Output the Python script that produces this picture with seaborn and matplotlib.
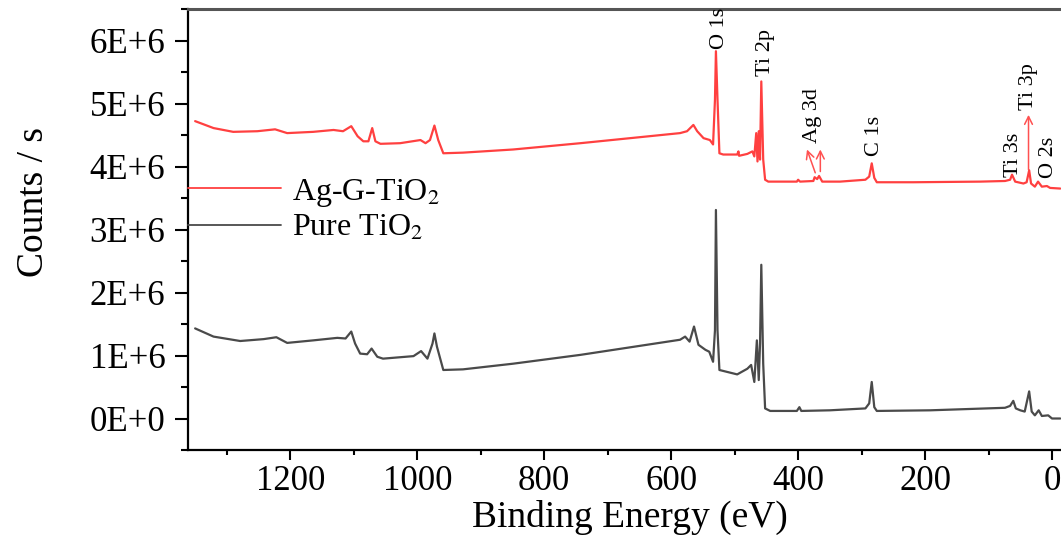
import numpy as np
import pandas as pd
import matplotlib
matplotlib.use("Agg")
import matplotlib.pyplot as plt
from matplotlib.ticker import FixedLocator, MultipleLocator
import seaborn as sns

# ---------------- data ----------------
ag_energy = [1350, 1321, 1290, 1252, 1224, 1205, 1164, 1132, 1117, 1104, 1094, 1085, 1077,
             1071, 1066, 1058, 1027, 995, 987, 980, 973, 967, 959, 928, 849, 743, 586, 575,
             565, 559, 549, 539, 534, 531, 529.5, 527, 524, 518, 496, 494, 493, 480, 472,
             469, 466, 464, 462, 460, 458, 455, 452, 447, 402, 400, 397, 376, 374, 370, 367,
             362, 334, 294, 288, 284, 280, 276, 219, 113, 74, 66, 63, 58, 45, 40, 36, 33,
             27, 22, 16, 8, 3, -13]
ag_counts = [4.72, 4.61, 4.55, 4.56, 4.59, 4.53, 4.55, 4.58, 4.56, 4.64, 4.48, 4.40, 4.40,
             4.61, 4.40, 4.36, 4.37, 4.42, 4.37, 4.42, 4.65, 4.42, 4.21, 4.22, 4.27, 4.37,
             4.53, 4.56, 4.66, 4.56, 4.45, 4.42, 4.35, 5.06, 5.83, 5.06, 4.21, 4.19, 4.19,
             4.24, 4.17, 4.20, 4.24, 4.16, 4.53, 4.08, 4.56, 4.11, 5.35, 4.11, 3.79, 3.76,
             3.76, 3.79, 3.76, 3.77, 3.83, 3.80, 3.85, 3.76, 3.76, 3.79, 3.84, 4.05, 3.82,
             3.75, 3.75, 3.76, 3.77, 3.79, 3.87, 3.76, 3.73, 3.75, 3.94, 3.73, 3.68, 3.76,
             3.68, 3.69, 3.66, 3.65]

pure_energy = [1350, 1321, 1279, 1242, 1222, 1205, 1164, 1126, 1113, 1104, 1098, 1090, 1079,
               1072, 1063, 1054, 1006, 994, 984, 976, 973, 969, 959, 928, 849, 743, 586, 578,
               571, 564, 557, 546, 540, 534, 531, 529.5, 527, 524, 512, 496, 480, 474, 469,
               465, 462, 460, 458, 455, 452, 444, 402, 398, 395, 350, 294, 288, 284, 280,
               276, 192, 74, 66, 61, 57, 50, 43, 36, 32, 27, 21, 16, 6, 0, -13]
pure_counts = [1.43, 1.30, 1.23, 1.26, 1.29, 1.20, 1.24, 1.28, 1.27, 1.38, 1.19, 1.03, 1.02,
               1.11, 0.98, 0.95, 0.99, 1.07, 0.95, 1.19, 1.35, 1.14, 0.77, 0.78, 0.87, 1.01,
               1.25, 1.30, 1.22, 1.46, 1.17, 1.09, 1.06, 0.90, 1.40, 3.31, 1.40, 0.77, 0.74,
               0.70, 0.79, 0.85, 0.58, 1.24, 0.61, 1.19, 2.44, 0.87, 0.16, 0.12, 0.12, 0.18,
               0.12, 0.13, 0.16, 0.24, 0.58, 0.18, 0.12, 0.13, 0.17, 0.20, 0.28, 0.16, 0.13,
               0.11, 0.43, 0.11, 0.05, 0.13, 0.04, 0.05, 0.00, 0.00]

series_names = ["Ag-G-TiO$_2$", "Pure TiO$_2$"]
series_colors = ["#ff4040", "#4a4a4a"]

peak_labels = ["O 1s", "Ti 2p", "Ag 3d", "C 1s", "Ti 3s", "Ti 3p", "O 2s"]
peak_label_x = [524, 452, 378, 279, 61, 37, 6]
peak_label_y = [5.86, 5.43, 4.38, 4.16, 3.84, 4.90, 3.82]   # x 1E+6

arrow_start_x = [373, 365, 37]
arrow_start_y = [3.90, 3.92, 3.95]
arrow_end_x = [386, 365, 37]
arrow_end_y = [4.27, 4.27, 4.82]

x_ticks = [1200, 1000, 800, 600, 400, 200, 0]
y_ticks = [0, 1, 2, 3, 4, 5, 6]
y_tick_labels = ["0E+0", "1E+6", "2E+6", "3E+6", "4E+6", "5E+6", "6E+6"]
x_label = "Binding Energy (eV)"
y_label = "Counts / s"
SCALE = 1e6

# ---------------- build table ----------------
df = pd.concat([
    pd.DataFrame({"energy": ag_energy, "counts": np.array(ag_counts) * SCALE,
                  "sample": series_names[0]}),
    pd.DataFrame({"energy": pure_energy, "counts": np.array(pure_counts) * SCALE,
                  "sample": series_names[1]}),
], ignore_index=True)

# ---------------- style ----------------
sns.set_style("ticks")
plt.rcParams["font.family"] = ["Liberation Serif", "DejaVu Serif"]
plt.rcParams["mathtext.fontset"] = "stix"
plt.rcParams["text.color"] = "black"
plt.rcParams["axes.labelcolor"] = "black"
plt.rcParams["xtick.color"] = "black"
plt.rcParams["ytick.color"] = "black"
plt.rcParams["xtick.labelcolor"] = "black"
plt.rcParams["ytick.labelcolor"] = "black"

fig = plt.figure(figsize=(10.61, 5.35), dpi=100)
ax = fig.add_axes([188.4 / 1061, 85 / 535, (1064.7 - 188.4) / 1061, 441 / 535])

sns.lineplot(data=df, x="energy", y="counts", hue="sample", hue_order=series_names,
             palette=series_colors, estimator=None, sort=False, linewidth=1.6, ax=ax)

ax.set_xlim(1360.6, -20)
ax.set_ylim(-0.5 * SCALE, 6.5 * SCALE)

ax.xaxis.set_major_locator(FixedLocator(x_ticks))
ax.xaxis.set_minor_locator(MultipleLocator(100))
ax.yaxis.set_major_locator(FixedLocator([v * SCALE for v in y_ticks]))
ax.set_yticklabels(y_tick_labels)
ax.yaxis.set_minor_locator(MultipleLocator(0.5 * SCALE))

ax.tick_params(axis="y", which="major", direction="out", length=9.5, width=1.5,
               labelsize=25, pad=7, color="black", labelcolor="black")
ax.tick_params(axis="y", which="minor", direction="out", length=5, width=1.5, color="black")
ax.tick_params(axis="x", which="major", direction="out", length=7, width=1.5,
               labelsize=25, pad=4, color="black", labelcolor="black")
ax.tick_params(axis="x", which="minor", direction="out", length=3.5, width=1.5, color="black")

for s in ["left", "bottom"]:
    ax.spines[s].set_linewidth(1.6)
    ax.spines[s].set_color("black")
ax.spines["top"].set_linewidth(2.2)
ax.spines["top"].set_color("#555555")
ax.spines["right"].set_visible(False)

ax.set_xlabel(x_label, fontsize=27, va="center", color="black")
ax.xaxis.set_label_coords(0.504, -0.153)
ax.set_ylabel(y_label, fontsize=27, va="center", color="black")
ax.yaxis.set_label_coords(-0.176, 0.562)

# peak labels
for lab, lx, ly in zip(peak_labels, peak_label_x, peak_label_y):
    ax.text(lx, ly * SCALE, lab, rotation=90, ha="center", va="bottom", fontsize=16,
            color="black")

# arrows
for sx, sy, ex, ey in zip(arrow_start_x, arrow_start_y, arrow_end_x, arrow_end_y):
    ax.annotate("", xy=(ex, ey * SCALE), xytext=(sx, sy * SCALE),
                arrowprops=dict(arrowstyle="->", color="#ff5050", lw=1.1,
                                mutation_scale=14, shrinkA=0, shrinkB=0))

sns.move_legend(ax, "center left", bbox_to_anchor=(0.0, 0.545), frameon=False, title=None,
                fontsize=23, borderaxespad=0, borderpad=0, handlelength=2.9,
                handletextpad=0.35, labelspacing=0.15)
for line in ax.get_legend().get_lines():
    line.set_linewidth(1.3)
for t in ax.get_legend().get_texts():
    t.set_color("black")

fig.savefig("out.png", dpi=100)
